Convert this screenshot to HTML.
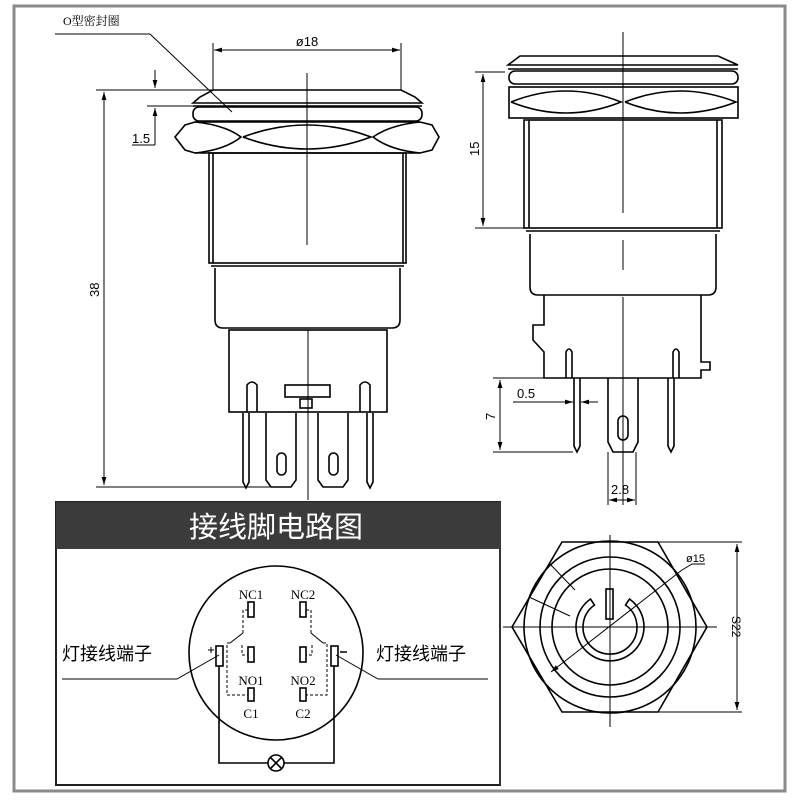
<!DOCTYPE html>
<html><head><meta charset="utf-8"><style>
html,body{margin:0;padding:0;background:#fff}
svg{display:block}
</style></head><body>
<svg width="800" height="800" viewBox="0 0 800 800" xmlns="http://www.w3.org/2000/svg" font-family="Liberation Sans, Noto Sans CJK SC, sans-serif">
<defs>
<marker id="a" viewBox="0 0 10 6" refX="10" refY="3" markerWidth="8" markerHeight="5" orient="auto-start-reverse"><path d="M0,0 L10,3 L0,6 z" fill="#000"/></marker>
</defs>
<rect x="14" y="6" width="771" height="785" fill="none" stroke="#8a8a8a" stroke-width="3"/>

<!-- LEFT VIEW -->
<g fill="none" stroke="#000" stroke-width="1">
<text x="63" y="25" font-size="12" fill="#000" stroke="none" style="font-family:'Liberation Serif','Noto Serif CJK SC',serif">O型密封圈</text>
<polyline points="55,34 150,34 232,112"/>
<line x1="213" y1="43" x2="213" y2="90"/><line x1="401" y1="43" x2="401" y2="90"/>
<line x1="214" y1="50" x2="400" y2="50" marker-start="url(#a)" marker-end="url(#a)"/>
<text x="307" y="46" font-size="13" text-anchor="middle" fill="#000" stroke="none">ø18</text>
<line x1="307" y1="73" x2="307" y2="245"/><line x1="308" y1="330" x2="308" y2="500"/>
<line x1="96" y1="90" x2="213" y2="90"/><line x1="96" y1="487" x2="270" y2="487"/>
<line x1="104" y1="92" x2="104" y2="485" marker-start="url(#a)" marker-end="url(#a)"/>
<text x="0" y="0" font-size="13" fill="#000" stroke="none" transform="translate(99,297) rotate(-90)">38</text>
<line x1="155" y1="70" x2="155" y2="88" marker-end="url(#a)"/>
<line x1="155" y1="145" x2="155" y2="108" marker-end="url(#a)"/>
<line x1="147" y1="106" x2="193" y2="106"/>
<text x="132" y="143" font-size="13" fill="#000" stroke="none">1.5</text>
<line x1="132" y1="145" x2="155" y2="145"/>
</g>
<g fill="none" stroke="#000" stroke-width="1.6">
<path d="M193,103 L200,97 L213,90 L401,90 L415,97 L422,103 Z"/>
<line x1="193" y1="106" x2="422" y2="106"/>
<rect x="193" y="107" width="229" height="14" rx="6"/>
<path d="M175,137 L185,125 L195,122 L420,122 L432,125 L439,137 L432,150 L420,153 L195,153 L185,150 Z"/>
<path d="M195,122 Q225,125 241,137 Q225,150 195,153"/>
<path d="M420,122 Q390,125 373,137 Q390,150 420,153"/>
<path d="M243,137 Q307,113 371,137 Q307,161 243,137"/>
<rect x="209" y="153" width="197" height="110"/>
<line x1="213" y1="153" x2="213" y2="263"/><line x1="403" y1="153" x2="403" y2="263"/>
<line x1="211" y1="266" x2="404" y2="266"/>
<path d="M215,268 L215,320 Q215,328 223,328 L392,328 Q400,328 400,320 L400,268"/>
<rect x="229" y="330" width="158" height="82"/>
<path d="M247,412 L247,385 Q252,379 257,385 L257,412"/>
<path d="M360,412 L360,385 Q365,379 370,385 L370,412"/>
<rect x="285" y="385" width="45" height="12"/>
<rect x="300" y="399" width="12" height="9"/>
<path d="M243,413 L243,482 L246,488 L249,482 L249,413"/>
<path d="M367,413 L367,482 L370,488 L373,482 L373,413"/>
<path d="M266,413 L266,480 L271,487 L291,487 L296,480 L296,413"/>
<path d="M318,413 L318,480 L323,487 L343,487 L348,480 L348,413"/>
<rect x="277" y="453" width="9" height="22" rx="4.5"/>
<rect x="329" y="453" width="9" height="22" rx="4.5"/>
</g>

<!-- RIGHT VIEW -->
<g fill="none" stroke="#000" stroke-width="1">
<line x1="623" y1="32" x2="623" y2="213"/><line x1="623" y1="240" x2="623" y2="270"/><line x1="623" y1="297" x2="623" y2="505"/>
<line x1="475" y1="72" x2="505" y2="72"/><line x1="475" y1="228" x2="524" y2="228"/>
<line x1="483" y1="74" x2="483" y2="226" marker-start="url(#a)" marker-end="url(#a)"/>
<text x="0" y="0" font-size="13" fill="#000" stroke="none" transform="translate(479,156) rotate(-90)">15</text>
<line x1="493" y1="378" x2="545" y2="378"/><line x1="493" y1="452" x2="573" y2="452"/>
<line x1="500" y1="380" x2="500" y2="450" marker-start="url(#a)" marker-end="url(#a)"/>
<text x="0" y="0" font-size="13" fill="#000" stroke="none" transform="translate(495,420) rotate(-90)">7</text>
<text x="517" y="398" font-size="13" fill="#000" stroke="none">0.5</text>
<line x1="513" y1="402" x2="573" y2="402" marker-end="url(#a)"/>
<line x1="598" y1="402" x2="581" y2="402" marker-end="url(#a)"/>
<line x1="608" y1="452" x2="608" y2="505"/><line x1="636" y1="452" x2="636" y2="505"/>
<line x1="609" y1="500" x2="635" y2="500" marker-start="url(#a)" marker-end="url(#a)"/>
<text x="611" y="494" font-size="13" fill="#000" stroke="none">2.8</text>
</g>
<g fill="none" stroke="#000" stroke-width="1.6">
<path d="M508,65 L520,56 L718,56 L738,65 Z"/>
<line x1="508" y1="69" x2="738" y2="69"/>
<rect x="509" y="71" width="229" height="13" rx="6"/>
<rect x="509" y="87" width="229" height="31"/>
<path d="M511,102 Q566,80 621,102 Q566,124 511,102"/>
<path d="M625,102 Q680,80 736,102 Q680,124 625,102"/>
<rect x="524" y="120" width="198" height="108"/>
<line x1="529" y1="120" x2="529" y2="228"/><line x1="717" y1="120" x2="717" y2="228"/>
<line x1="526" y1="231" x2="720" y2="231"/>
<path d="M530,234 L530,287 Q530,295 538,295 L708,295 Q716,295 716,287 L716,234"/>
<path d="M544,295 L544,325 L533,325 L533,340 L544,352 L544,378 L701,378 L701,370 L710,370 L710,362 L701,362 L701,295"/>
<path d="M566,378 L566,352 Q569,346 572,352 L572,378"/>
<path d="M673,378 L673,352 Q676,346 679,352 L679,378"/>
<path d="M574,378 L574,446 L577,452 L580,446 L580,378"/>
<path d="M668,378 L668,446 L671,452 L674,446 L674,378"/>
<path d="M608,378 L608,442 L613,452 L633,452 L638,442 L638,378"/>
<rect x="618" y="416" width="10" height="24" rx="5"/>
</g>

<!-- BOTTOM LEFT PANEL -->
<rect x="56" y="502" width="444" height="283" fill="#fff" stroke="#222" stroke-width="2"/>
<rect x="56" y="502" width="444" height="47" fill="#3b3b3b"/>
<text x="276" y="537" font-size="29" fill="#fff" text-anchor="middle" style="font-family:'Noto Sans CJK SC',sans-serif">接线脚电路图</text>
<g fill="none" stroke="#000" stroke-width="1.6">
<circle cx="276" cy="653" r="87"/>
<rect x="248" y="602" width="6" height="15"/><rect x="300" y="602" width="6" height="15"/>
<rect x="248" y="647" width="6" height="15"/><rect x="300" y="647" width="6" height="15"/>
<rect x="248" y="688" width="6" height="13"/><rect x="300" y="688" width="6" height="13"/>
<rect x="216" y="646" width="7" height="20"/><rect x="331" y="646" width="7" height="20"/>
<polyline points="219,666 219,763 268,763"/><polyline points="334,666 334,763 284,763"/>
<circle cx="276" cy="763" r="8"/>
<line x1="270" y1="757" x2="282" y2="769"/><line x1="282" y1="757" x2="270" y2="769"/>
</g>
<g fill="none" stroke="#000" stroke-width="1">
<polyline points="62,679 177,679 219,655"/>
<polyline points="488,679 378,679 336,655"/>
<g stroke-dasharray="3,2">
<polyline points="248,610 243,610 243,633"/>
<polyline points="230,643 227,643 227,695 248,695"/>
<polyline points="242,645 242,655 248,655"/>
<polyline points="306,610 311,610 311,633"/>
<polyline points="323,643 327,643 327,695 306,695"/>
<polyline points="312,645 312,655 306,655"/>
</g>
<line x1="243" y1="633" x2="230" y2="643"/><line x1="311" y1="633" x2="323" y2="643"/>
<line x1="208" y1="650" x2="214" y2="650"/><line x1="211" y1="647" x2="211" y2="653"/>
<line x1="340" y1="652" x2="347" y2="652" stroke-width="1.5"/>
</g>
<g font-size="13" fill="#000" text-anchor="middle" style="font-family:'Liberation Serif',serif">
<text x="251" y="599">NC1</text><text x="303" y="599">NC2</text>
<text x="251" y="685">NO1</text><text x="303" y="685">NO2</text>
<text x="251" y="718">C1</text><text x="303" y="718">C2</text>
</g>
<text x="62" y="660" font-size="18" fill="#000" style="font-family:'Noto Sans CJK SC',sans-serif">灯接线端子</text>
<text x="376" y="660" font-size="18" fill="#000" style="font-family:'Noto Sans CJK SC',sans-serif">灯接线端子</text>

<!-- BOTTOM RIGHT: TOP VIEW -->
<g fill="none" stroke="#000" stroke-width="1">
<line x1="503" y1="627" x2="717" y2="627"/><line x1="610" y1="535" x2="610" y2="727"/>
<line x1="551" y1="672" x2="682" y2="570" marker-start="url(#a)"/>
<polyline points="682,570 692,564 705,564"/>
<text x="686" y="562" font-size="11" fill="#000" stroke="none">ø15</text>
<line x1="658" y1="542" x2="742" y2="542"/><line x1="658" y1="712" x2="742" y2="712"/>
<line x1="737" y1="544" x2="737" y2="710" marker-start="url(#a)" marker-end="url(#a)"/>
<text x="0" y="0" font-size="12" fill="#000" stroke="none" transform="translate(732,616) rotate(90)">S22</text>
<line x1="549" y1="563" x2="575" y2="590"/><line x1="529" y1="597" x2="570" y2="616"/>
</g>
<g fill="none" stroke="#000" stroke-width="1.6">
<polygon points="512,627 562,542 658,542 707,627 658,712 562,712"/>
<circle cx="610" cy="627" r="86"/>
<circle cx="610" cy="627" r="70"/>
<circle cx="610" cy="627" r="58"/>
<path d="M590.5,599 A34,34 0 1,0 629.5,599 L625.5,605 A27,27 0 1,1 594.5,605 Z"/>
<rect x="606" y="589" width="7" height="30"/>
</g>
<line x1="500" y1="502" x2="500" y2="785" stroke="#444" stroke-width="1"/>
</svg>
</body></html>
